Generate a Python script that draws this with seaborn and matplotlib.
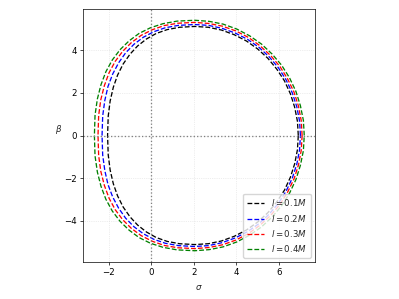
import seaborn as sns
import pandas as pd
import numpy as np
import matplotlib
matplotlib.use("Agg")
import matplotlib.pyplot as plt

# upper half of each shadow curve (sigma, beta),
# going from the right edge over the top to the left edge
sigma_01 = [6.92, 6.88, 6.75, 6.55, 6.27, 5.91, 5.49, 5.01, 4.49, 3.91, 3.31, 2.69, 2.05,
            1.33, 0.75, 0.24, -0.22, -0.64, -1.00, -1.32, -1.58, -1.78, -1.93, -2.02, -2.05]
beta_01 = [0.00, 0.67, 1.33, 1.96, 2.57, 3.12, 3.63, 4.07, 4.44, 4.74, 4.96, 5.09, 5.13,
           5.09, 4.98, 4.80, 4.54, 4.21, 3.82, 3.36, 2.84, 2.27, 1.62, 0.91, 0.00]

sigma_02 = [7.02, 6.98, 6.85, 6.64, 6.35, 5.99, 5.56, 5.08, 4.54, 3.95, 3.34, 2.70, 2.05,
            1.28, 0.67, 0.12, -0.37, -0.81, -1.20, -1.53, -1.81, -2.03, -2.18, -2.28, -2.31]
beta_02 = [0.00, 0.68, 1.35, 2.00, 2.61, 3.18, 3.69, 4.14, 4.52, 4.82, 5.04, 5.18, 5.22,
           5.18, 5.07, 4.88, 4.62, 4.29, 3.89, 3.42, 2.89, 2.31, 1.65, 0.92, 0.00]

sigma_03 = [7.10, 7.06, 6.93, 6.72, 6.42, 6.06, 5.62, 5.12, 4.58, 3.98, 3.36, 2.71, 2.05,
            1.25, 0.61, 0.04, -0.47, -0.93, -1.34, -1.69, -1.98, -2.20, -2.37, -2.47, -2.50]
beta_03 = [0.00, 0.69, 1.38, 2.04, 2.66, 3.24, 3.76, 4.22, 4.61, 4.92, 5.14, 5.27, 5.32,
           5.28, 5.17, 4.97, 4.71, 4.37, 3.96, 3.49, 2.95, 2.35, 1.68, 0.94, 0.00]

sigma_04 = [7.20, 7.16, 7.02, 6.81, 6.51, 6.14, 5.69, 5.19, 4.63, 4.02, 3.38, 2.72, 2.05,
            1.22, 0.56, -0.03, -0.57, -1.04, -1.46, -1.83, -2.13, -2.36, -2.53, -2.64, -2.67]
beta_04 = [0.00, 0.71, 1.40, 2.07, 2.71, 3.30, 3.83, 4.30, 4.69, 5.01, 5.24, 5.37, 5.42,
           5.38, 5.26, 5.07, 4.80, 4.45, 4.04, 3.55, 3.00, 2.39, 1.72, 0.96, 0.00]

labels = [r'$l=0.1M$', r'$l=0.2M$', r'$l=0.3M$', r'$l=0.4M$']
colors = ['k', 'b', 'r', 'g']
curves = [(sigma_01, beta_01), (sigma_02, beta_02), (sigma_03, beta_03), (sigma_04, beta_04)]

s = 0.6234  # picture is a default 6.4x4.8 figure shrunk to 399x299
sns.set_style("ticks")
plt.rcParams.update({
    'font.size': 10 * s,
    'axes.linewidth': 0.8 * s,
    'xtick.major.width': 0.8 * s,
    'ytick.major.width': 0.8 * s,
    'xtick.major.size': 3.5 * s,
    'ytick.major.size': 3.5 * s,
    'xtick.major.pad': 3.5 * s,
    'ytick.major.pad': 3.5 * s,
    'axes.edgecolor': 'black',
    'xtick.color': 'black',
    'ytick.color': 'black',
})

fig = plt.figure(figsize=(3.99, 2.99), dpi=100)
ax = fig.add_axes([83 / 399, 37 / 299, 232 / 399, 253 / 299])

for (sg, bt), lab, col in zip(curves, labels, colors):
    # close the curve through the mirrored lower half
    full_s = list(sg) + list(sg[::-1][1:])
    full_b = list(bt) + [-b for b in bt[::-1][1:]]
    df = pd.DataFrame({'sigma': full_s, 'beta': full_b})
    sns.lineplot(data=df, x='sigma', y='beta', sort=False, estimator=None, ax=ax,
                 color=col, linestyle='--', linewidth=1.5 * s, label=lab)

ax.axhline(0, color='gray', linestyle=':', linewidth=1.5 * s)
ax.axvline(0, color='gray', linestyle=':', linewidth=1.5 * s)
ax.grid(True, linestyle=':', color='#dddddd', linewidth=0.8 * s)

ax.set_xlim(-3.2, 7.7)
ax.set_ylim(-5.95, 5.95)
ax.set_aspect('equal', adjustable='box')
ax.set_xticks([-2, 0, 2, 4, 6])
ax.set_yticks([-4, -2, 0, 2, 4])
ax.set_xlabel(r'$\sigma$')
ax.set_ylabel(r'$\beta$', rotation=0)
for sp in ax.spines.values():
    sp.set_visible(True)

ax.legend(loc='lower right', fontsize=10 * s)

fig.savefig('out.png', dpi=100)
